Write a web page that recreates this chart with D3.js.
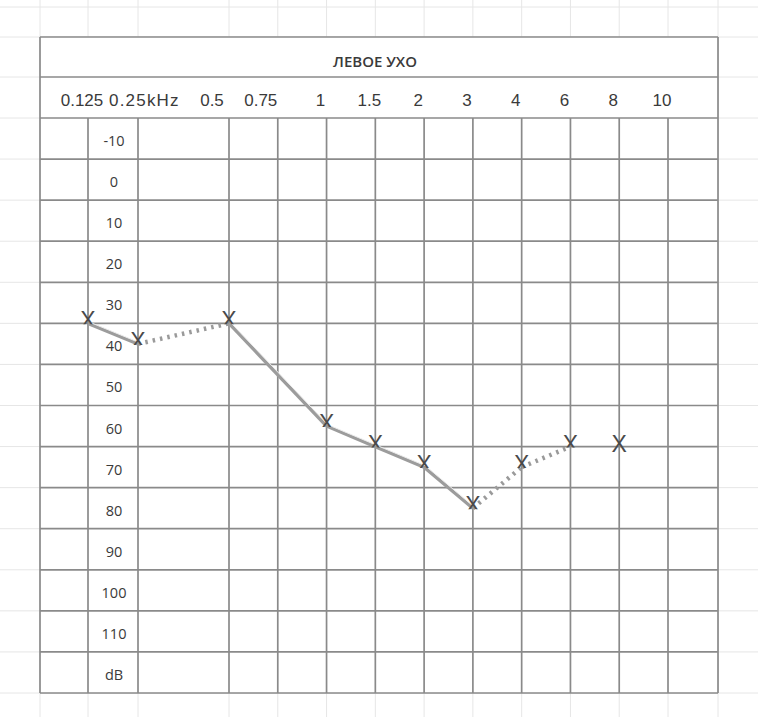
<!DOCTYPE html>
<html>
<head>
<meta charset="utf-8">
<script src="https://cdn.jsdelivr.net/npm/d3@7"></script>
<style>
  html, body { margin: 0; padding: 0; background: #fff; }
  svg { display: block; }
</style>
</head>
<body>
<svg id="chart" width="758" height="717"></svg>
<script>
// ---- data ----
const title = "ЛЕВОЕ УХО";
const freqs = [0.125, 0.25, 0.5, 0.75, 1, 1.5, 2, 3, 4, 6, 8, 10];
const freqLabels = ["0.125", "0.25kHz", "0.5", "0.75", "1", "1.5", "2", "3", "4", "6", "8", "10"];
const rowLabels = ["-10", "0", "10", "20", "30", "40", "50", "60", "70", "80", "90", "100", "110", "dB"];
// left-ear thresholds (connected)
const curveFreqs = [0.125, 0.25, 0.5, 1, 1.5, 2, 3, 4, 6];
const curveDb    = [35, 40, 35, 60, 65, 70, 80, 70, 65];
// segment kind between consecutive points: "a" = solid, "b" = dotted
const segmentKind = ["a", "b", "a", "a", "a", "a", "b", "b"];
// isolated marker
const loneFreqs = [8];
const loneDb = [65];

// ---- layout ----
const W = 758, H = 717;
const tableLeft = 40, tableRight = 718, tableTop = 37, titleBottom = 77, headBottom = 118, tableBottom = 693;
const svg = d3.select("#chart");

const idx = f => freqs.indexOf(f);
const xi = d3.scaleLinear().domain([0, 1, 2, 11]).range([88, 138, 229, 668]);
const x = f => xi(idx(f));

const yRow = d3.scaleBand().domain(rowLabels).range([headBottom, tableBottom]);
const bw = yRow.bandwidth();
const y = d3.scaleLinear().domain([-10, 110])
  .range([yRow("-10") + bw / 2, yRow("110") + bw / 2]);

// ---- faint spreadsheet background grid ----
const bg = svg.append("g").attr("stroke", "#e6e6e6").attr("stroke-width", 1);
const hLines = [7, tableTop, titleBottom].concat(rowLabels.map(r => yRow(r))).concat([tableBottom]);
hLines.forEach(v => bg.append("line").attr("x1", 0).attr("x2", W).attr("y1", v).attr("y2", v));
const vLines = [tableLeft].concat(freqs.map(x)).concat([tableRight]);
vLines.forEach(v => bg.append("line").attr("x1", v).attr("x2", v).attr("y1", 0).attr("y2", H));

svg.append("rect").attr("x", tableLeft).attr("y", tableTop)
  .attr("width", tableRight - tableLeft).attr("height", tableBottom - tableTop)
  .attr("fill", "#fff");

const grid = svg.append("g").attr("stroke", "#8a8a8a").attr("stroke-width", 1.7).attr("fill", "none");
[tableTop, titleBottom, headBottom].concat(rowLabels.slice(1).map(r => yRow(r))).concat([tableBottom])
  .forEach(v => grid.append("line").attr("x1", tableLeft).attr("x2", tableRight).attr("y1", v).attr("y2", v));
freqs.forEach(f => grid.append("line").attr("x1", x(f)).attr("x2", x(f)).attr("y1", headBottom).attr("y2", tableBottom));
[tableLeft, tableRight].forEach(v => grid.append("line").attr("x1", v).attr("x2", v).attr("y1", tableTop).attr("y2", tableBottom));

// ---- texts ----
svg.append("text").attr("x", (tableLeft + tableRight) / 2 - 4).attr("y", (tableTop + titleBottom) / 2 + 4)
  .attr("text-anchor", "middle").attr("dominant-baseline", "central")
  .attr("font-family", "Open Sans, sans-serif").attr("font-size", 15).attr("font-weight", 600)
  .attr("fill", "#3a3a3a").text(title);

svg.append("g").selectAll("text").data(freqLabels).join("text")
  .attr("x", (d, i) => d.includes("kHz") ? x(freqs[i]) - 29 : x(freqs[i]) - (i < 4 && i > 1 ? 17 : 6))
  .attr("text-anchor", d => d.includes("kHz") ? "start" : "middle")
  .attr("letter-spacing", d => d.includes("kHz") ? 1.2 : 0)
  .attr("y", (titleBottom + headBottom) / 2 + 3)
  .attr("dominant-baseline", "central")
  .attr("font-family", "Liberation Sans, Arial, sans-serif").attr("font-size", 17)
  .attr("fill", "#3a3a3a").text(d => d);

svg.append("g").selectAll("text").data(rowLabels).join("text")
  .attr("x", (x(0.125) + x(0.25)) / 2 + 1)
  .attr("y", d => yRow(d) + bw / 2 + 2)
  .attr("text-anchor", "middle").attr("dominant-baseline", "central")
  .attr("font-family", "Open Sans, sans-serif").attr("font-size", 14.5)
  .attr("fill", "#3a3a3a").text(d => d);

// ---- curve ----
const pts = curveFreqs.map((f, i) => [x(f), y(curveDb[i])]);
const curve = svg.append("g").attr("fill", "none");
segmentKind.forEach((k, i) => {
  const seg = d3.line()([pts[i], pts[i + 1]]);
  if (k === "a") {
    curve.append("path").attr("d", seg).attr("stroke", "#9c9c9c").attr("stroke-width", 3.4);
    curve.append("path").attr("d", seg).attr("stroke", "#ececec").attr("stroke-width", 1)
      .attr("transform", "translate(1.3,-1.3)");
  } else {
    curve.append("path").attr("d", seg).attr("stroke", "#9a9a9a").attr("stroke-width", 4.5)
      .attr("stroke-dasharray", "2.5 5");
  }
});

// markers (upper part visible, lower part hidden under the lines)
const defs = svg.append("defs");
const mk = svg.append("g");
pts.forEach((p, i) => {
  const id = "clip" + i;
  defs.append("clipPath").attr("id", id).append("rect")
    .attr("x", p[0] - 15).attr("y", p[1] - 25).attr("width", 30).attr("height", 26);
  mk.append("text").attr("x", p[0]).attr("y", p[1] - 3)
    .attr("clip-path", `url(#${id})`)
    .attr("text-anchor", "middle").attr("dominant-baseline", "central")
    .attr("font-family", "Liberation Sans, Arial, sans-serif").attr("font-size", 23)
    .attr("fill", "#4a4a4a").text("X");
});
loneFreqs.forEach((f, i) => {
  mk.append("text").attr("x", x(f)).attr("y", y(loneDb[i]) - 3)
    .attr("text-anchor", "middle").attr("dominant-baseline", "central")
    .attr("font-family", "Liberation Sans, Arial, sans-serif").attr("font-size", 23)
    .attr("fill", "#4a4a4a").text("X");
});
</script>
</body>
</html>
